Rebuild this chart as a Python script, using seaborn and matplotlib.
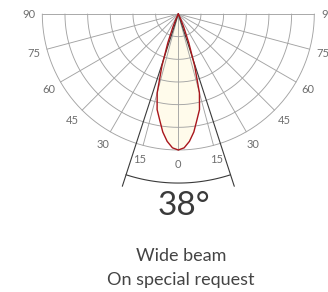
import numpy as np
import matplotlib
matplotlib.use("Agg")
import matplotlib.pyplot as plt
import seaborn as sns

# polar light distribution (deg from nadir, relative intensity)
angles = [0, 2.5, 5, 7.5, 10, 12.5, 15, 17.5, 20, 22.5, 25, 27.5, 30]
intensity = [1.00, 0.985, 0.94, 0.875, 0.79, 0.72, 0.60, 0.40, 0.225, 0.105, 0.04, 0.01, 0.0]

tick_angles = [-90, -75, -60, -45, -30, -15, 0, 15, 30, 45, 60, 75, 90]
tick_labels = ["90", "75", "60", "45", "30", "15", "0", "15", "30", "45", "60", "75", "90"]
ring_levels = [1 / 6, 2 / 6, 3 / 6, 4 / 6, 5 / 6, 1.0]

beam_half = 18          # drawn half angle of the beam lines
beam_text = "38°"
caption = ["Wide beam", "On special request"]

sns.set_style("white")
plt.rcParams['font.family'] = ['Lato', 'DejaVu Sans']

W, H = 328, 292
cx, cy, R = 178.3, 14.0, 136.0

fig = plt.figure(figsize=(W / 100, H / 100), dpi=100)
ax = fig.add_axes([0, 0, 1, 1])
ax.set_xlim(-cx / R, (W - cx) / R)
ax.set_ylim(-(H - cy) / R, cy / R)
ax.axis("off")


def pol(theta_deg, r):
    t = np.radians(np.asarray(theta_deg, dtype=float))
    r = np.asarray(r, dtype=float)
    return r * np.sin(t), -r * np.cos(t)


grid_col = "#a3a3a3"
# rings
arc = np.linspace(-90, 90, 361)
for lv in ring_levels:
    x, y = pol(arc, np.full_like(arc, lv))
    ax.plot(x, y, color=grid_col, lw=0.65, zorder=2)
# radials
for a in tick_angles:
    x, y = pol([a, a], [0, 1])
    ax.plot(x, y, color=grid_col, lw=0.65, zorder=2)

# lobe (mirrored)
th = np.concatenate([-np.array(angles[::-1]), np.array(angles[1:])])
rr = np.concatenate([np.array(intensity[::-1]), np.array(intensity[1:])])
lx, ly = pol(th, rr)
ax.fill(lx, ly, color="#fffbeb", zorder=1, lw=0)
sns.lineplot(x=lx, y=ly, sort=False, estimator=None, color="#a8161c", lw=1.0, ax=ax, zorder=4)

# beam lines and arc
for s in (-1, 1):
    x, y = pol([0, s * beam_half], [0, 1.332])
    ax.plot(x, y, color="#3a3a3a", lw=0.8, zorder=3)
barc = np.linspace(-beam_half, beam_half, 60)
x, y = pol(barc, np.full_like(barc, 1.243))
ax.plot(x, y, color="#3a3a3a", lw=0.8, zorder=3)

# angle labels
for a, lab in zip(tick_angles, tick_labels):
    x, y = pol(a, 1.1)
    ax.text(x, y, lab, ha="center", va="center_baseline", fontsize=8,
            color="#6e6e6e", clip_on=False)

fig.text(183.5 / W, 1 - 215 / H, beam_text, ha="center", va="baseline",
         fontsize=24, color="#3a3a3a")
fig.text(181 / W, 1 - 261 / H, caption[0], ha="center", va="baseline",
         fontsize=13, color="#444444")
fig.text(181 / W, 1 - 285 / H, caption[1], ha="center", va="baseline",
         fontsize=13, color="#444444")

fig.savefig("out.png", dpi=100)
